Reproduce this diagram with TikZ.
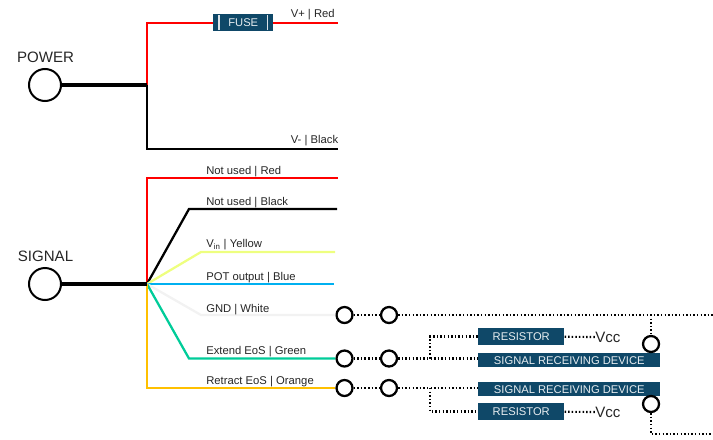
\documentclass[tikz,border=0pt]{standalone}
\usepackage{amsmath}
\usepackage{fontspec}
\setmainfont{Liberation Sans}
\definecolor{wirered}{HTML}{FF0000}
\definecolor{wireyellow}{HTML}{EEFF7F}
\definecolor{wireblue}{HTML}{00B0F0}
\definecolor{wirewhite}{HTML}{F2F2F2}
\definecolor{wiregreen}{HTML}{00CC99}
\definecolor{wireorange}{HTML}{FFC000}
\definecolor{boxblue}{HTML}{0F4868}
\definecolor{labelgrey}{HTML}{262626}
\tikzset{
  wire/.style={line width=1.7pt},
  mainwire/.style={line width=3.2pt},
  dotwire/.style={line width=1.6pt, dash pattern=on 1.1pt off 1.6pt},
  port/.style={draw, circle, fill=white, line width=1.7pt, minimum size=12pt, inner sep=0pt},
  bigport/.style={draw, circle, fill=white, line width=1.5pt, minimum size=24pt, inner sep=0pt},
  darkbox/.style={fill=boxblue, text=white!90!boxblue, font=\fontsize{8.4pt}{10pt}\selectfont, inner sep=0pt, anchor=north west},
  wirelabel/.style={text=labelgrey, font=\fontsize{8.45pt}{10pt}\selectfont, anchor=west, inner sep=0pt},
  biglabel/.style={text=labelgrey, font=\fontsize{11.3pt}{13pt}\selectfont, inner sep=0pt},
}
\begin{document}
\begin{tikzpicture}[x=0.75pt, y=-0.75pt]
  \useasboundingbox (0,0) rectangle (713,439);
  \def \rw {86*0.75pt}
  \def \dw {182*0.75pt}
  \def \rh {17*0.75pt}
  \def \dh {14*0.75pt}

  % power side
  \node[bigport] (power) at (45,85) {};
  \node[biglabel] (powertext) at (45.5,57) {POWER};
  \coordinate (pj) at (147,85);
  \coordinate (pup) at (147,23);
  \coordinate (pdown) at (147,149);
  \coordinate (pplus) at (338,23);
  \coordinate (pminus) at (338,149);
  \draw[wire, wirered] (pj) -- (pup) -- (pplus);
  \draw[wire, black] (pj) -- (pdown) -- (pminus);
  \draw[mainwire] (power) -- (pj);
  \node[darkbox, minimum width=60*0.75pt, minimum height=17*0.75pt] (fuse) at (213,14) {FUSE};
  \draw[white!85!boxblue, line width=0.8pt] ([xshift=4.5pt,yshift=1pt]fuse.south west) -- ([xshift=4.5pt,yshift=-1pt]fuse.north west);
  \draw[white!85!boxblue, line width=0.8pt] ([xshift=-4.5pt,yshift=1pt]fuse.south east) -- ([xshift=-4.5pt,yshift=-1pt]fuse.north east);
  \node[wirelabel] (vplus) at (290.5,15) {V+ | Red};
  \node[wirelabel] (vminus) at (290.5,141) {V- | Black};

  % signal side
  \node[bigport] (signal) at (45,284) {};
  \node[biglabel] (signaltext) at (45.5,256) {SIGNAL};
  \coordinate (sj) at (147,284);
  \foreach \name/\col/\bx/\by/\ex in {nured/wirered/147/178/338, nublack/black/189/209/337, vin/wireyellow/201/252/335}{
    \coordinate (\name b) at (\bx,\by);
    \coordinate (\name e) at (\ex,\by);
    \draw[wire, \col] (sj) -- (\name b) -- (\name e);
  }
  \coordinate (pote) at (334,284);
  \draw[wire, wireblue] (sj) -- (pote);

  % ports, two in a row
  \foreach \name/\yy in {gnd/315, ext/358.5, ret/388}{
    \node[port] (\name a) at (344.5,\yy) {};
    \node[port] (\name b) at (389,\yy) {};
  }
  \coordinate (gndk) at (201,315);
  \coordinate (extk) at (189,358.5);
  \coordinate (retk) at (147,388);
  \draw[wire, wirewhite] (sj) -- (gndk) -- (gnda);
  \draw[wire, wiregreen] (sj) -- (extk) -- (exta);
  \draw[wire, wireorange] (sj) -- (retk) -- (reta);
  \draw[mainwire] (signal) -- (sj);

  \foreach \lab/\yy/\txt in {a/171.5/Not used | Red, b/202.5/Not used | Black, c/244.5/V\textsubscript{in} | Yellow, d/278/POT output | Blue, e/310/GND | White, f/352/Extend EoS | Green, g/382/Retract EoS | Orange}{
    \node[wirelabel] (lab\lab) at (206,\yy) {\txt};
  }

  % boxes
  \node[darkbox, minimum width=\rw, minimum height=\rh] (resa) at (478,328) {RESISTOR};
  \node[darkbox, minimum width=\dw, minimum height=\dh] (deva) at (478,353) {SIGNAL RECEIVING DEVICE};
  \node[darkbox, minimum width=\dw, minimum height=\dh] (devb) at (478,382) {SIGNAL RECEIVING DEVICE};
  \node[darkbox, minimum width=\rw, minimum height=\rh] (resb) at (478,403) {RESISTOR};
  \node[biglabel, anchor=west] (vcca) at (595,337) {Vcc};
  \node[biglabel, anchor=west] (vccb) at (595,412) {Vcc};
  \node[port] (enda) at (651,344) {};
  \node[port] (endb) at (651,404) {};

  % dotted runs
  \coordinate (gndr) at (713,315);
  \coordinate (gndt) at (651,315);
  \coordinate (kneea) at (430,358.5);
  \coordinate (kneeb) at (430,336.5);
  \coordinate (kneec) at (430,388);
  \coordinate (kneed) at (430,411.5);
  \coordinate (lowa) at (651,434);
  \coordinate (lowb) at (713,434);
  \draw[dotwire] (gnda) -- (gndb);
  \draw[dotwire] (exta) -- (extb);
  \draw[dotwire] (reta) -- (retb);
  \draw[dotwire] (gndb) -- (gndr);
  \draw[dotwire] (gndt) -- (enda);
  \draw[dotwire] (extb) -- (deva.west |- extb);
  \draw[dotwire] (kneea) -- (kneeb) -- (resa.west |- kneeb);
  \draw[dotwire] (retb) -- (devb.west |- retb);
  \draw[dotwire] (kneec) -- (kneed) -- (resb.west |- kneed);
  \draw[dotwire] (resa.east) -- (vcca.west);
  \draw[dotwire] (resb.east) -- (vccb.west);
  \draw[dotwire] (endb) -- (lowa) -- (lowb);
\end{tikzpicture}
\end{document}
